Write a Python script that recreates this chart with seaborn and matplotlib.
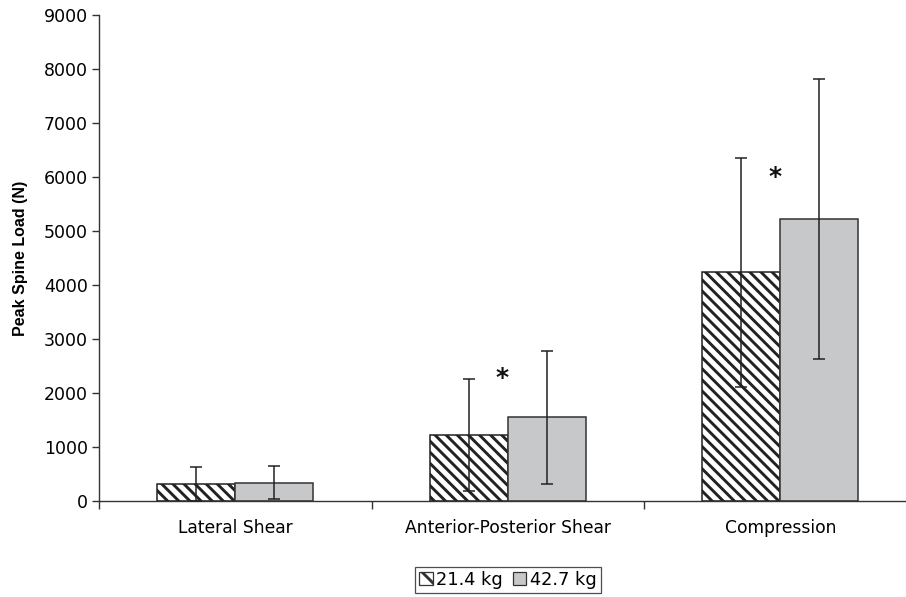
import matplotlib
matplotlib.use("Agg")
import matplotlib.pyplot as plt
import seaborn as sns
import pandas as pd
import numpy as np

categories = ["Lateral Shear", "Anterior-Posterior Shear", "Compression"]
loads = ["21.4 kg", "42.7 kg"]
mean_21 = [315, 1220, 4235]
mean_42 = [340, 1550, 5220]
sd_21 = [310, 1035, 2120]
sd_42 = [310, 1230, 2590]
star_y = [None, 2280, 6000]

sns.set_theme(style="white")
plt.rcParams["font.family"] = ["DejaVu Sans"]
plt.rcParams["text.color"] = "black"
plt.rcParams["hatch.linewidth"] = 2.1
plt.rcParams["hatch.color"] = "#1a1a1a"

HATCH = "\\\\\\"

df = pd.DataFrame({
    "Category": categories * 2,
    "Load": [loads[0]] * 3 + [loads[1]] * 3,
    "Value": mean_21 + mean_42,
})
sds = {loads[0]: sd_21, loads[1]: sd_42}

fig = plt.figure(figsize=(9.06, 5.97), dpi=100)
ax = fig.add_axes([99 / 906, 1 - 501 / 597, (916.5 - 99) / 906, 486 / 597])

sns.barplot(data=df, x="Category", y="Value", hue="Load", order=categories,
            hue_order=loads, palette=["white", "#c7c8ca"], width=0.572,
            gap=0, edgecolor="#333333", linewidth=1.1, errorbar=None,
            ax=ax, legend=True, saturation=1)

for cont, load in zip(ax.containers, loads):
    xs, ys = [], []
    for p in cont.patches:
        if load == loads[0]:
            p.set_hatch(HATCH)
            p.set_edgecolor("#222222")
        xs.append(p.get_x() + p.get_width() / 2)
        ys.append(p.get_height())
    ax.errorbar(xs, ys, yerr=sds[load], fmt="none", ecolor="#222222",
                elinewidth=1.1, capsize=4.2, capthick=1.1, zorder=5)

# significance stars
for i, sy in enumerate(star_y):
    if sy is not None:
        ax.text(i - 0.02, sy, "*", ha="center", va="center",
                fontsize=18, fontweight="bold", color="#111111")

ax.set_xlim(-0.5, 2.5)
ax.set_ylim(0, 9000)
ax.set_yticks(np.arange(0, 9001, 1000))
ax.set_xlabel("")
ax.set_ylabel("Peak Spine Load (N)", fontsize=11.5, fontweight="bold",
              family="Liberation Sans", labelpad=11, color="black")

for s in ["top", "right"]:
    ax.spines[s].set_visible(False)
for s in ["left", "bottom"]:
    ax.spines[s].set_color("#333333")
    ax.spines[s].set_linewidth(1.0)

ax.tick_params(axis="y", which="major", direction="out", length=5, width=1.0,
               color="#333333", labelsize=12.5, pad=3, left=True,
               labelcolor="black")
ax.tick_params(axis="x", which="major", length=0, labelsize=12.3, pad=13,
               labelcolor="black")
ax.set_xticks([-0.5, 0.5, 1.5, 2.5], minor=True)
ax.tick_params(axis="x", which="minor", direction="out", length=6, width=1.0,
               color="#333333", bottom=True)

leg = ax.legend(loc="upper center", bbox_to_anchor=(0.5, -0.135), ncol=2,
                frameon=True, fancybox=False, fontsize=12.8,
                handlelength=0.75, handleheight=0.75, handletextpad=0.2,
                columnspacing=0.55, borderpad=0.25, borderaxespad=0)
leg.get_frame().set_edgecolor("#222222")
leg.get_frame().set_linewidth(0.9)
for i, h in enumerate(leg.legend_handles):
    h.set_edgecolor("#333333")
    h.set_linewidth(0.9)
    if i == 0:
        h.set_hatch("\\\\")
for t in leg.get_texts():
    t.set_color("black")

fig.savefig("out.png", dpi=100)
